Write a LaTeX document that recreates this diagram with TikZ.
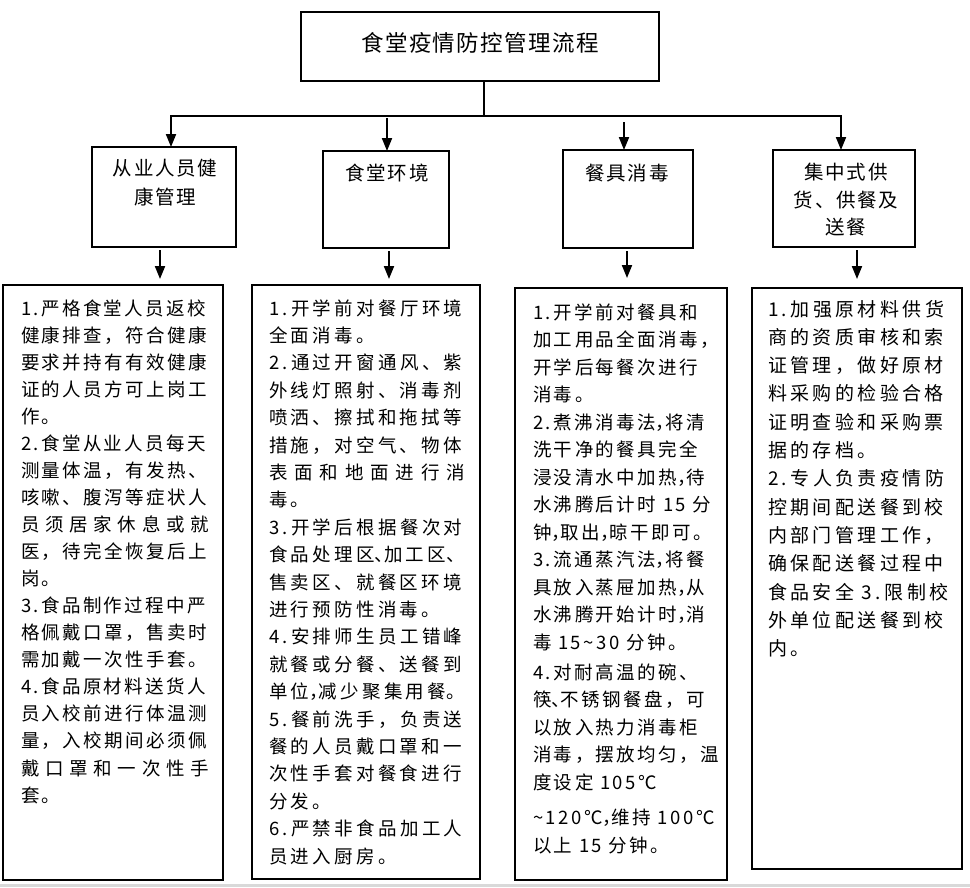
\documentclass[tikz,border=0pt]{standalone}
\usepackage{fontspec}
\usetikzlibrary{arrows.meta}
\setmainfont{Noto Sans CJK SC}
\newfontfamily\fA[LetterSpace=13]{Noto Sans CJK SC}
\newfontfamily\fB[LetterSpace=18]{Noto Sans CJK SC}
\newfontfamily\fC[LetterSpace=13.5]{Noto Sans CJK SC}
\newfontfamily\fD[LetterSpace=18]{Noto Sans CJK SC}
\newfontfamily\fH[LetterSpace=8.7]{Noto Sans CJK SC}
\newfontfamily\fT[LetterSpace=6]{Noto Sans CJK SC}
\newcommand\hw[1]{\makebox[0.5em][l]{#1}}
\newcommand\spr[2]{\makebox[#1][s]{#2}}
\begin{document}
\begin{tikzpicture}[x=1pt,y=-1pt,
  box/.style={draw, line width=2pt, anchor=north west, inner sep=0pt, outer sep=0pt},
  ln/.style={anchor=base west, inner sep=0pt, outer sep=0pt},
  hd/.style={anchor=base, inner sep=0pt, outer sep=0pt, font=\fontsize{19.5pt}{19.5pt}\fH},
  arr/.style={line width=2pt, -{Triangle[length=13pt,width=10pt]}},
  wire/.style={line width=2pt, line cap=rect}]
\useasboundingbox (0,0) rectangle (970,887);
\fill[gray!30] (0,884) rectangle (970,887);
% boxes
\node[box, minimum width=358pt, minimum height=69pt] (t) at (301,12) {};
\node[box, minimum width=144pt, minimum height=100pt] (h1) at (92,147) {};
\node[box, minimum width=126pt, minimum height=97pt] (h2) at (323,151) {};
\node[box, minimum width=130pt, minimum height=98pt] (h3) at (563,150) {};
\node[box, minimum width=142pt, minimum height=97pt] (h4) at (773,150) {};
\node[box, minimum width=220pt, minimum height=595pt] (b1) at (3,285) {};
\node[box, minimum width=228pt, minimum height=594pt] (b2) at (252,285) {};
\node[box, minimum width=212pt, minimum height=592pt] (b3) at (515,288) {};
\node[box, minimum width=210pt, minimum height=581pt] (b4) at (752,288) {};
% title and headers
\node[anchor=base, inner sep=0pt, font=\fontsize{22.5pt}{22.5pt}\fT] (tt) at (480,51.5) {食堂疫情防控管理流程};
\node[hd] (h1a) at (165,175.5) {从业人员健};
\node[hd] (h1b) at (165,204.5) {康管理};
\node[hd] (h2a) at (387,180.5) {食堂环境};
\node[hd] (h3a) at (627,180.5) {餐具消毒};
\node[hd] (h4a) at (846,179.5) {集中式供};
\node[hd] (h4b) at (846,207) {货、供餐及};
\node[hd] (h4c) at (846,234.5) {送餐};
% connectors
\coordinate (j) at (484,116);
\coordinate (jl) at (171,116);
\coordinate (jr) at (841,116);
\coordinate (s2) at (387,118);
\coordinate (s3) at (624,122);
\draw[wire] (t.south -| j) -- (j);
\draw[wire] (jl) -- (jr);
\draw[arr] (jl) -- (h1.north -| jl);
\draw[arr] (s2) -- (h2.north -| s2);
\draw[arr] (s3) -- (h3.north -| s3);
\draw[arr] (jr) -- (h4.north -| jr);
\coordinate (c1) at (160,0);
\coordinate (c2) at (389,0);
\coordinate (c3) at (627,0);
\coordinate (c4) at (857,0);
\draw[arr, shorten <=3pt, shorten >=6pt] (h1.south -| c1) -- (b1.north -| c1);
\draw[arr, shorten <=3pt, shorten >=6pt] (h2.south -| c2) -- (b2.north -| c2);
\draw[arr, shorten <=3pt, shorten >=10pt] (h3.south -| c3) -- (b3.north -| c3);
\draw[arr, shorten <=3pt, shorten >=9pt] (h4.south -| c4) -- (b4.north -| c4);
% box 1 text
\foreach \t [count=\i] in {
 {1.严格食堂人员返校},
 {健康排查，符合健康},
 {要求并持有有效健康},
 {证的人员方可上岗工},
 {作。},
 {2.食堂从业人员每天},
 {测量体温，有发热、},
 {咳嗽、腹泻等症状人},
 {\spr{188pt}{员\hfil 须\hfil 居\hfil 家\hfil 休\hfil 息\hfil 或\hfil 就}},
 {医，待完全恢复后上},
 {岗。},
 {3.食品制作过程中严},
 {格佩戴口罩，售卖时},
 {需加戴一次性手套。},
 {4.食品原材料送货人},
 {员入校前进行体温测},
 {量，入校期间必须佩},
 {\spr{188pt}{戴\hfil 口\hfil 罩\hfil 和\hfil 一\hfil 次\hfil 性\hfil 手}},
 {套。}}
 \node[ln, font=\fontsize{18.5pt}{18.5pt}\fA] (pa\i) at (21,{315+(\i-1)*27.06}) {\t};
% box 2 text
\foreach \t [count=\i] in {
 {1.开学前对餐厅环境},
 {全面消毒。},
 {2.通过开窗通风、紫},
 {外线灯照射、消毒剂},
 {喷洒、擦拭和拖拭等},
 {措施，对空气、物体},
 {\spr{196pt}{表\hfil 面\hfil 和\hfil 地\hfil 面\hfil 进\hfil 行\hfil 消}},
 {毒。},
 {3.开学后根据餐次对},
 {食品处理区\hw{、}加工区\hw{、}},
 {售卖区、就餐区环境},
 {进行预防性消毒。},
 {4.安排师生员工错峰},
 {就餐或分餐、送餐到},
 {单位\hw{，}减少聚集用餐\hw{。}},
 {5.餐前洗手，负责送},
 {餐的人员戴口罩和一},
 {次性手套对餐食进行},
 {分发。},
 {6.严禁非食品加工人},
 {员进入厨房。}}
 \node[ln, font=\fontsize{18.5pt}{18.5pt}\fB] (pb\i) at (269,{315+(\i-1)*27.4}) {\t};
% box 3 text
\foreach \y/\t [count=\i] in {
 319/{1.开学前对餐具和},
 346.5/{加工用品全面消毒，},
 374/{开学后每餐次进行},
 401.5/{消毒。},
 429/{2.煮沸消毒法\hw{，}将清},
 456.5/{洗干净的餐具完全},
 484/{浸没清水中加热\hw{，}待},
 511.5/{水沸腾后计时 15 分},
 539/{钟\hw{，}取出\hw{，}晾干即可。},
 566.5/{3.流通蒸汽法\hw{，}将餐},
 594/{具放入蒸屉加热\hw{，}从},
 621.5/{水沸腾开始计时\hw{，}消},
 649/{毒 15\textasciitilde 30 分钟。},
 679/{4.对耐高温的碗、},
 706.5/{筷\hw{、}不锈钢餐盘，可},
 734/{以放入热力消毒柜},
 761.5/{消毒，摆放均匀，温},
 789/{度设定 105℃},
 824/{\textasciitilde 120℃\hw{，}维持 100℃},
 852/{以上 15 分钟。}}
 \node[ln, font=\fontsize{18.5pt}{18.5pt}\fC] (pc\i) at (533,\y) {\t};
% box 4 text
\foreach \t [count=\i] in {
 {1.加强原材料供货},
 {商的资质审核和索},
 {证管理，做好原材},
 {料采购的检验合格},
 {证明查验和采购票},
 {据的存档。},
 {2.专人负责疫情防},
 {控期间配送餐到校},
 {内部门管理工作，},
 {确保配送餐过程中},
 {食品安全 3.限制校},
 {外单位配送餐到校},
 {内。}}
 \node[ln, font=\fontsize{19pt}{19pt}\fD] (pd\i) at (768,{316+(\i-1)*28.3}) {\t};
\end{tikzpicture}
\end{document}
